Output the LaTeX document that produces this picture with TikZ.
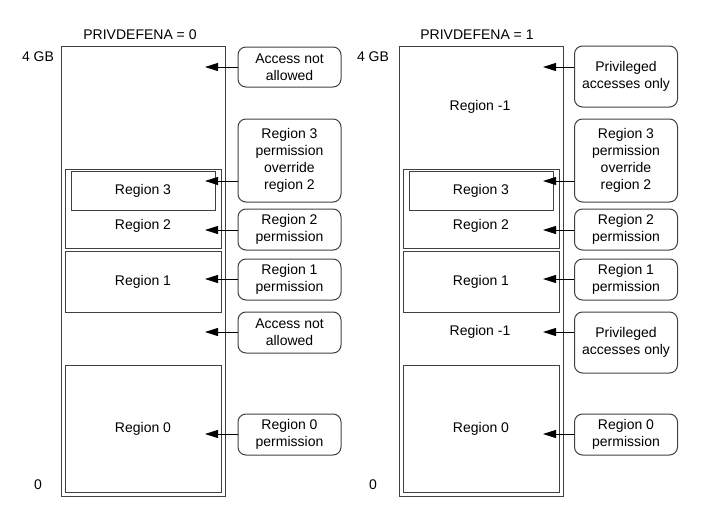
\documentclass[tikz,border=0pt]{standalone}
\usepackage{fontspec}
\setmainfont{Liberation Sans}
\usetikzlibrary{arrows.meta}

\begin{document}
\begin{tikzpicture}[x=1pt, y=-1pt,
  mem/.style={draw=black!75, line width=1pt, minimum width=164pt,
              minimum height=450pt, inner sep=0pt},
  region/.style={draw=black!75, line width=1pt, minimum width=156pt,
                 inner sep=0pt, font=\fontsize{14}{17}\selectfont},
  note/.style={draw=black!75, line width=1pt, rounded corners=8pt,
               minimum width=103pt, inner sep=0pt, align=center,
               font=\fontsize{14}{17}\selectfont},
  lbl/.style={inner sep=0pt, font=\fontsize{14}{17}\selectfont},
  arr/.style={-{Triangle[length=13pt, width=8pt]}, line width=1pt}
]
  \useasboundingbox (0,0) rectangle (710,509);

  % Left: PRIVDEFENA = 0
  \node[lbl] (ltitle) at (140,35) {PRIVDEFENA = 0};
  \node[lbl] (ltop) at (38,57) {4 GB};
  \node[lbl] (lbot) at (38,485) {0};
  \node[mem] (lmem) at (143,271) {};
  \node[region, minimum height=79pt] (lreg2) at (143,208.5) {};
  \node[lbl] (lreg2txt) at (143,226) {Region 2};
  \node[region, minimum width=144pt, minimum height=39pt] (lreg3) at (143,190.5) {Region 3};
  \node[region, minimum height=61pt] (lreg1) at (143,281.5) {Region 1};
  \node[region, minimum height=127pt] (lreg0) at (143,428.5) {Region 0};

  % Left callouts
  \node[note, minimum height=40pt] (lnote1) at (289.5,67) {Access not\\allowed};
  \node[note, minimum height=83pt] (lnote2) at (289.5,160.5) {Region 3\\permission\\override\\region 2};
  \node[note, minimum height=41pt] (lnote3) at (289.5,229.5) {Region 2\\permission};
  \node[note, minimum height=41pt] (lnote4) at (289.5,279.5) {Region 1\\permission};
  \node[note, minimum height=41pt] (lnote5) at (289.5,332.5) {Access not\\allowed};
  \node[note, minimum height=41pt] (lnote6) at (289.5,434.5) {Region 0\\permission};

  \coordinate (ltip1) at (205,67);
  \coordinate (ltip2) at (205,181);
  \coordinate (ltip3) at (205,230);
  \coordinate (ltip4) at (205,279);
  \coordinate (ltip5) at (205,332);
  \coordinate (ltip6) at (205,434);
  \draw[arr] (lnote1.west |- ltip1) -- (ltip1);
  \draw[arr] (lnote2.west |- ltip2) -- (ltip2);
  \draw[arr] (lnote3.west |- ltip3) -- (ltip3);
  \draw[arr] (lnote4.west |- ltip4) -- (ltip4);
  \draw[arr] (lnote5.west |- ltip5) -- (ltip5);
  \draw[arr] (lnote6.west |- ltip6) -- (ltip6);

  % Right: PRIVDEFENA = 1
  \node[lbl] (rtitle) at (477,35) {PRIVDEFENA = 1};
  \node[lbl] (rtop) at (373,57) {4 GB};
  \node[lbl] (rbot) at (373,485) {0};
  \node[mem] (rmem) at (481,271) {};
  \node[lbl] (rdef1) at (480,107) {Region -1};
  \node[region, minimum height=79pt] (rreg2) at (481,208.5) {};
  \node[lbl] (rreg2txt) at (481,226) {Region 2};
  \node[region, minimum width=144pt, minimum height=39pt] (rreg3) at (481,190.5) {Region 3};
  \node[region, minimum height=61pt] (rreg1) at (481,281.5) {Region 1};
  \node[lbl] (rdef2) at (480,332) {Region -1};
  \node[region, minimum height=127pt] (rreg0) at (481,428.5) {Region 0};

  % Right callouts
  \node[note, minimum height=61pt] (rnote1) at (626,76.5) {Privileged\\accesses only};
  \node[note, minimum height=83pt] (rnote2) at (626,160.5) {Region 3\\permission\\override\\region 2};
  \node[note, minimum height=41pt] (rnote3) at (626,229.5) {Region 2\\permission};
  \node[note, minimum height=41pt] (rnote4) at (626,279.5) {Region 1\\permission};
  \node[note, minimum height=61pt] (rnote5) at (626,342.5) {Privileged\\accesses only};
  \node[note, minimum height=41pt] (rnote6) at (626,434.5) {Region 0\\permission};

  \coordinate (rtip1) at (543,67);
  \coordinate (rtip2) at (543,181);
  \coordinate (rtip3) at (543,230);
  \coordinate (rtip4) at (543,279);
  \coordinate (rtip5) at (543,332);
  \coordinate (rtip6) at (543,434);
  \draw[arr] (rnote1.west |- rtip1) -- (rtip1);
  \draw[arr] (rnote2.west |- rtip2) -- (rtip2);
  \draw[arr] (rnote3.west |- rtip3) -- (rtip3);
  \draw[arr] (rnote4.west |- rtip4) -- (rtip4);
  \draw[arr] (rnote5.west |- rtip5) -- (rtip5);
  \draw[arr] (rnote6.west |- rtip6) -- (rtip6);
\end{tikzpicture}
\end{document}
